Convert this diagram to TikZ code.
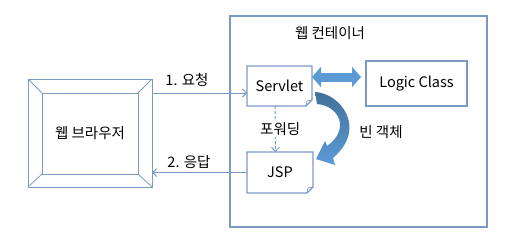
\documentclass[tikz,border=0pt]{standalone}
\usepackage{fontspec}
\setmainfont{Noto Sans CJK KR}
\usetikzlibrary{arrows.meta,calc}
\definecolor{boxline}{RGB}{124,152,196}
\definecolor{arrowblue}{RGB}{91,155,213}
\definecolor{arrowdark}{RGB}{65,113,156}

% outline with a folded lower right corner
\newcommand{\foldbox}[1]{%
  \draw[boxline,line width=1.2pt] (#1.north west) -- (#1.north east)
    -- ([yshift=6pt]#1.south east) -- ([xshift=-6pt]#1.south east)
    -- (#1.south west) -- cycle;
  \draw[boxline,line width=0.7pt] ([yshift=6pt]#1.south east)
    -- ([xshift=-5pt,yshift=5pt]#1.south east) -- ([xshift=-6pt]#1.south east);}

\begin{document}
\begin{tikzpicture}[x=1pt,y=-1pt,font=\fontsize{14.5}{16}\selectfont,
  frame/.style={draw=boxline,line width=1.2pt,outer sep=0pt},
  plain/.style={outer sep=0pt},
  link/.style={boxline,line width=1pt,-{Straight Barb[length=4pt,width=8pt]}}]
  \useasboundingbox (0,0) rectangle (530,244);

  % ── Web browser (bevelled frame) ──
  \node[frame,line width=1pt,minimum width=124pt,minimum height=108pt] (browser) at (90,133) {웹 브라우저};
  \coordinate (bnw) at ([xshift=14pt,yshift=-14pt]browser.north west);
  \coordinate (bne) at ([xshift=-14pt,yshift=-14pt]browser.north east);
  \coordinate (bsw) at ([xshift=14pt,yshift=13pt]browser.south west);
  \coordinate (bse) at ([xshift=-14pt,yshift=13pt]browser.south east);
  \draw[boxline,line width=1pt] (bnw) -- (bne) -- (bse) -- (bsw) -- cycle;
  \draw[boxline,line width=0.8pt] (browser.north west) -- (bnw);
  \draw[boxline,line width=0.8pt] (browser.north east) -- (bne);
  \draw[boxline,line width=0.8pt] (browser.south west) -- (bsw);
  \draw[boxline,line width=0.8pt] (browser.south east) -- (bse);

  % ── Web container ──
  \node[frame,minimum width=257pt,minimum height=211pt] (container) at (358.5,121.5) {};
  \node (title) at (330,33) {웹 컨테이너};

  \node[plain,minimum width=65pt,minimum height=40pt] (servlet) at (279.5,86) {Servlet};
  \foldbox{servlet}
  \node[frame,minimum width=101pt,minimum height=45pt] (logic) at (416.5,83.5) {Logic Class};
  \node[plain,minimum width=66pt,minimum height=41pt] (jsp) at (280,172.5) {JSP};
  \foldbox{jsp}

  % ── Request / response ──
  \draw[link] ([yshift=-14pt]browser.north east) -- ([yshift=-7pt]servlet.west);
  \node (req) at (187,80) {1. 요청};
  \draw[link] (jsp.west) -- (browser.east |- jsp.west);
  \node (resp) at (189,162) {2. 응답};

  % ── Forward ──
  \draw[link,dash pattern=on 3pt off 2pt] ([xshift=-4.5pt]servlet.south) -- ([xshift=-4.5pt]jsp.north)
    node[midway,fill=white,text=black,xshift=5pt,inner sep=1pt] (fwd) {포워딩};

  % ── Servlet <-> Logic Class ──
  \draw[arrowblue,line width=9pt,{Triangle[width=20pt,length=9pt]}-{Triangle[width=20pt,length=9pt]},shorten >=5pt]
    ([yshift=9pt]servlet.east) -- ([yshift=6.5pt]logic.west);

  % ── Bean object (curved block arrow) ──
  \shade[top color=arrowdark,bottom color=arrowblue]
    (315,92) .. controls (340,93) and (368,128) .. (333,158)
    -- (335,165) -- (316,159) -- (325,141) -- (327,146)
    .. controls (350,130) and (340,106) .. (317,104) -- cycle;
  \node (bean) at (381,132) {빈 객체};
\end{tikzpicture}
\end{document}
